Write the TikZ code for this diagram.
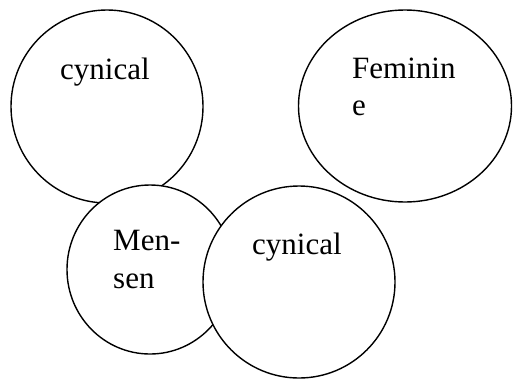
\documentclass[tikz,border=0pt]{standalone}
\usepackage{fontspec}
\setmainfont{Liberation Serif}
\usetikzlibrary{shapes.geometric}
\tikzset{
  bubble/.style={draw=black, fill=white, line width=1.4pt, ellipse, inner sep=0pt},
  lbl/.style={anchor=base west, inner sep=0pt, font=\fontsize{31}{37}\selectfont}
}
\begin{document}
\begin{tikzpicture}[x=1pt,y=-1pt]
\useasboundingbox (0,0) rectangle (513,378);
\node[bubble, minimum width=192pt, minimum height=193pt] (c1) at (107,106.5) {};
\node[bubble, minimum width=213pt, minimum height=192pt] (c2) at (405,106) {};
\node[bubble, minimum width=166pt, minimum height=169pt] (c3) at (150,269.5) {};
\node[bubble, minimum width=192pt, minimum height=192pt] (c4) at (299,282) {};
\node[lbl] (t1) at (60,79) {cynical};
\node[lbl] (t2a) at (352,78) {Feminin};
\node[lbl] (t2b) at (352,115) {e};
\node[lbl] (t3a) at (113,250) {Men-};
\node[lbl] (t3b) at (113,288) {sen};
\node[lbl] (t4) at (252,254) {cynical};
\end{tikzpicture}
\end{document}
